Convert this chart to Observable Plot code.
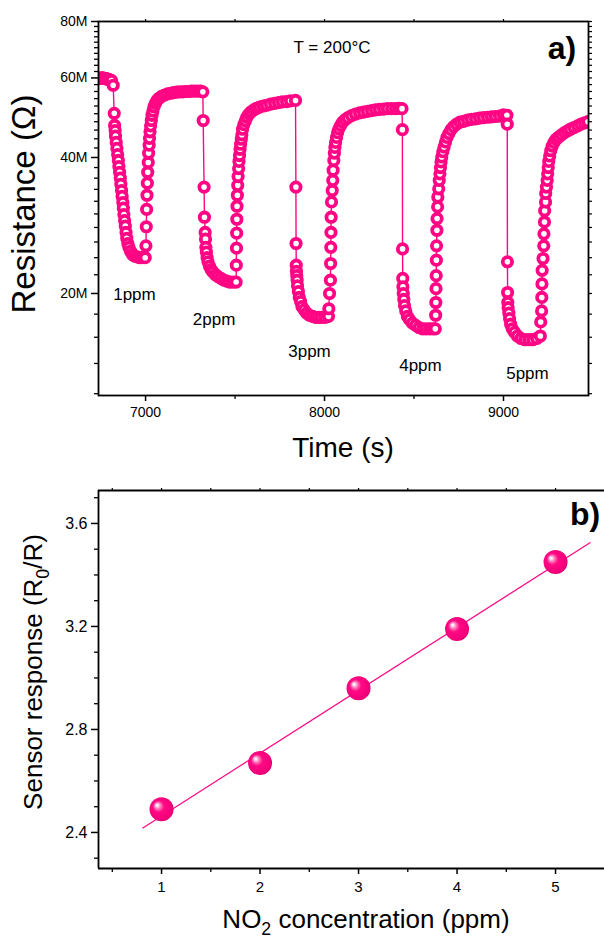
<!DOCTYPE html>
<html>
<head>
<meta charset="utf-8">
<script src="https://cdn.jsdelivr.net/npm/d3@7"></script>
<script src="https://cdn.jsdelivr.net/npm/@observablehq/plot@0.6"></script>
<style>
  html, body { margin: 0; padding: 0; background: #ffffff; overflow: hidden; }
  #chart { width: 604px; height: 938px; }
  #chart svg { display: block; }
</style>
</head>
<body>
<div id="chart"></div>
<script>
// ================= Panel a) resistance transients at 200 °C =================
// time (s) and resistance (MΩ), one pair of arrays per cycle
const timeC1 = [6740,6745,6750,6755,6760,6765,6770,6775,6780,6785,6790,6795,6800,6805,6810,6819,6825,
  6827,6830,6832,6836,6840,6844,6848,6851,6855,6859,6862,6866,6869,6873,6876,6879,6883,6887,6891,6895,6901,6907,6916,6927,6939,6953,6967,6980,6998,
  7002,7004,7006,7008,7010,7012,7015,7017,7020,7022,7025,7028,7032,7036,7041,7047,7055,7064,7075,7089,7106,7123,7140,7156,7173,7190,7207,7224,7240,7257,7274,7291,7307,7320];
const resC1 = [59.8,59.9,59.9,60.0,60.0,59.9,59.9,59.8,59.7,59.7,59.6,59.5,59.4,59.3,59.2,57.8,50.1,
  47.1,45.9,44.6,43.2,41.9,40.6,39.4,38.2,37.1,36.0,34.9,33.8,32.8,31.8,30.9,29.9,29.0,28.2,27.3,26.5,25.8,25.3,24.8,24.4,24.2,24.1,24.0,24.0,24.0,
  25.5,28.1,30.7,33.0,35.1,37.1,39.0,40.9,42.6,44.1,45.6,47.0,48.3,49.6,50.7,51.8,52.7,53.5,54.1,54.6,55.0,55.3,55.5,55.7,55.8,55.9,55.9,56.0,56.0,56.1,56.1,56.1,56.1,55.9];

const timeC2 = [7322,7327,7329,7333,7335,7337,7340,7344,7349,7357,7366,7377,7391,7405,7421,7437,7454,7470,7488,7506,
  7507,7508,7509,7510,7511,7513,7515,7517,7520,7522,7525,7528,7531,7535,7538,7542,7549,7557,7566,7577,7590,7605,7620,7637,7657,7676,7698,7721,7743,7765,7788,7810,7838];
const resC2 = [48.3,34.4,29.5,27.3,26.4,25.3,24.7,24.0,23.5,23.0,22.6,22.3,22.0,21.8,21.6,21.4,21.3,21.2,21.2,21.2,
  23.1,25.2,27.2,29.2,31.2,33.0,34.7,36.3,37.8,39.2,40.4,41.7,42.8,43.9,44.9,46.2,47.3,48.2,49.1,49.9,50.5,51.0,51.4,51.7,52.0,52.2,52.5,52.7,52.9,53.1,53.2,53.4,53.5];

const timeC3 = [7840,7841,7842,7843,7845,7847,7849,7854,7859,7866,7874,7886,7900,7916,7933,7950,7967,7983,8003,8022,
  8024,8028,8033,8034,8035,8036,8037,8039,8043,8046,8048,8052,8055,8058,8062,8067,8073,8080,8090,8101,8115,8131,8151,8173,8196,8218,8240,8263,8285,8307,8330,8352,8375,8397,8416,8433];
const resC3 = [34.4,25.8,23.1,22.4,21.9,21.4,20.8,20.2,19.6,19.2,18.7,18.4,18.1,17.9,17.8,17.7,17.7,17.7,17.7,17.8,
  18.5,20.0,21.4,23.3,25.3,27.3,29.5,31.9,33.8,35.6,37.5,39.4,40.9,42.1,43.2,44.3,45.4,46.3,47.1,47.9,48.5,49.0,49.5,49.9,50.2,50.4,50.6,50.8,51.0,51.1,51.2,51.3,51.3,51.3,51.4,51.3];

const timeC4 = [8435,8436,8437,8438,8440,8443,8447,8454,8463,8475,8491,8509,8528,8548,8567,8587,8604,8619,
  8621,8622,8623,8624,8625,8626,8628,8629,8632,8633,8638,8641,8645,8648,8651,8655,8661,8668,8676,8684,8695,8707,8721,8738,8757,8777,8799,8821,8844,8866,8888,8911,8933,8955,8978,9000,9019];
const resC4 = [46.1,25.1,21.6,20.7,20.0,19.4,18.8,18.3,17.8,17.5,17.2,17.0,16.8,16.7,16.7,16.7,16.7,16.7,
  17.9,19.1,20.5,21.9,23.7,25.5,27.6,29.3,31.1,32.7,34.1,35.6,36.8,38.0,39.1,40.1,41.2,42.2,43.3,44.3,45.2,46.1,46.8,47.4,47.9,48.1,48.4,48.6,48.7,48.9,49.0,49.1,49.2,49.3,49.4,49.7,49.6];

const timeC5 = [9021,9022,9023,9024,9026,9030,9034,9040,9049,9062,9078,9098,9119,9141,9163,9185,9206,
  9208,9213,9214,9215,9216,9221,9225,9226,9229,9230,9235,9236,9240,9244,9247,9250,9253,9258,9264,9272,9282,9294,9308,9324,9341,9358,9374,9394,9414,9433,9453,9472];
const resC5 = [47.4,23.5,20.1,19.1,18.6,18.1,17.6,17.1,16.7,16.4,16.1,15.9,15.8,15.8,15.8,15.9,16.1,
  17.3,18.3,19.6,21.0,22.5,23.9,25.5,27.1,28.8,30.5,31.9,33.3,34.4,35.6,36.8,38.0,39.2,40.3,41.4,42.4,43.2,43.9,44.4,44.9,45.4,45.8,46.2,46.6,47.0,47.4,47.7,48.0];

const domainTimeA = [6737, 9475];
const domainResA = [11.89, 80];
const xMajorA = [7000, 8000, 9000];
const xMinorA = [7500, 8500];
const yMajorA = [20, 40, 60, 80];
const yMinorA = [12,14,16,18,22,24,26,28,30,32,34,36,38,42,44,46,48,50,52,54,56,58,62,64,66,68,70,72,74,76,78];
const ppmText = ["1ppm", "2ppm", "3ppm", "4ppm", "5ppm"];
const ppmTime = [6938, 7383, 7916, 8536, 9134];
const ppmRes  = [19.3, 17.0, 14.5, 13.5, 12.96];

// ================= Panel b) response vs NO2 concentration =================
const concentration = [1, 2, 3, 4, 5];
const response = [2.49, 2.67, 2.96, 3.19, 3.45];
const fitSpan = [0.81, 5.35];
const domainConcB = [0.36, 5.497];
const domainRespB = [2.26, 3.728];
const xMajorB = [1, 2, 3, 4, 5];
const xMinorB = [0.5, 1.5, 2.5, 3.5, 4.5];
const yMajorB = [2.4, 2.8, 3.2, 3.6];
const yMinorB = [2.3, 2.5, 2.6, 2.7, 2.9, 3.0, 3.1, 3.3, 3.4, 3.5, 3.7];

// ================= build =================
const FONT = "'Liberation Sans', Arial, Helvetica, sans-serif";
const PINK = "#ff0784";
const blank = () => "";

function zip(ts, rs) {
  const n = Math.min(ts.length, rs.length);
  return d3.range(n).map(i => ({t: ts[i], r: rs[i]}));
}
const seriesA = [
  ...zip(timeC1, resC1), ...zip(timeC2, resC2), ...zip(timeC3, resC3),
  ...zip(timeC4, resC4), ...zip(timeC5, resC5)
];
const labelsA = ppmText.map((s, i) => ({label: s, t: ppmTime[i], r: ppmRes[i]}));

const svgA = Plot.plot({
  width: 604, height: 460,
  marginTop: 21, marginRight: 16, marginBottom: 65, marginLeft: 98,
  style: {fontFamily: FONT, fontSize: "14px", color: "#000", background: "transparent", overflow: "visible"},
  x: {domain: domainTimeA, label: null},
  y: {type: "log", domain: domainResA, label: null},
  marks: [
    Plot.axisY({ticks: yMajorA, tickSize: 7, tickPadding: 4, strokeWidth: 1.5, tickFormat: d => d + "M", fontSize: 14, label: null}),
    Plot.axisY({ticks: yMinorA, tickSize: 4, strokeWidth: 1.3, tickFormat: blank, label: null}),
    Plot.axisY({anchor: "right", ticks: yMajorA.concat(yMinorA), tickSize: 3, strokeWidth: 1.2, tickFormat: blank, label: null}),
    Plot.axisX({ticks: xMajorA, tickSize: 6, tickPadding: 6, strokeWidth: 1.5, tickFormat: d => String(d), fontSize: 14, label: null}),
    Plot.axisX({ticks: xMinorA, tickSize: 4, strokeWidth: 1.3, tickFormat: blank, label: null}),
    Plot.axisX({anchor: "top", ticks: xMajorA.concat(xMinorA), tickSize: 3, strokeWidth: 1.2, tickFormat: blank, label: null}),
    Plot.line(seriesA, {x: "t", y: "r", stroke: PINK, strokeWidth: 1.4, clip: true}),
    Plot.dot(seriesA, {x: "t", y: "r", r: 4.7, fill: "white", stroke: PINK, strokeWidth: 3.8, clip: true}),
    Plot.text(labelsA, {x: "t", y: "r", text: "label", fontSize: 17, lineAnchor: "bottom", textAnchor: "middle", fill: "#000"}),
    Plot.frame({stroke: "#000", strokeWidth: 1.8})
  ]
});

// least-squares line through the response points
const mx = d3.mean(concentration), my = d3.mean(response);
const slope = d3.sum(concentration, (x, i) => (x - mx) * (response[i] - my)) /
              d3.sum(concentration, x => (x - mx) ** 2);
const intercept = my - slope * mx;
const fitLine = fitSpan.map(x => ({x, y: intercept + slope * x}));
const pointsB = concentration.map((c, i) => ({c, s: response[i]}));

const svgB = Plot.plot({
  width: 604, height: 478,
  marginTop: 30, marginRight: 0, marginBottom: 70, marginLeft: 98,
  style: {fontFamily: FONT, fontSize: "15px", color: "#000", background: "transparent", overflow: "visible"},
  x: {domain: domainConcB, label: null},
  y: {domain: domainRespB, label: null},
  marks: [
    Plot.axisY({ticks: yMajorB, tickSize: 7, tickPadding: 4, strokeWidth: 1.5, tickFormat: d => d.toFixed(1), fontSize: 16, label: null}),
    Plot.axisY({ticks: yMinorB, tickSize: 4, strokeWidth: 1.3, tickFormat: blank, label: null}),
    Plot.axisX({ticks: xMajorB, tickSize: 6, tickPadding: 7, strokeWidth: 1.5, tickFormat: d => String(d), fontSize: 15, label: null}),
    Plot.axisX({ticks: xMinorB, tickSize: 4, strokeWidth: 1.3, tickFormat: blank, label: null}),
    Plot.axisX({anchor: "top", ticks: xMajorB.concat(xMinorB), tickSize: 3, strokeWidth: 1.2, tickFormat: blank, label: null}),
    Plot.ruleY([domainRespB[0], domainRespB[1]], {stroke: "#000", strokeWidth: 1.8}),
    Plot.ruleX([domainConcB[0]], {stroke: "#000", strokeWidth: 1.8}),
    Plot.line(fitLine, {x: "x", y: "y", stroke: PINK, strokeWidth: 1.2}),
    Plot.dot(pointsB, {x: "c", y: "s", r: 12, fill: "url(#sphereGrad)"})
  ]
});

// glossy sphere gradient for panel b markers
const grad = d3.select(svgB).insert("defs", ":first-child")
  .append("radialGradient").attr("id", "sphereGrad")
  .attr("cx", "0.47").attr("cy", "0.47").attr("r", "0.57").attr("fx", "0.3").attr("fy", "0.32");
[[0, "#ffffff"], [0.08, "#ffe8f3"], [0.22, "#ff7cbd"], [0.42, "#ff0a84"], [0.85, "#f2007a"], [1, "#d2006b"]]
  .forEach(([o, c]) => grad.append("stop").attr("offset", o).attr("stop-color", c));

function addLabel(svg, {x, y, size, weight = "normal", rotate = 0, anchor = "middle", parts}) {
  const t = d3.select(svg).append("text")
    .attr("transform", `translate(${x},${y}) rotate(${rotate})`)
    .attr("text-anchor", anchor)
    .attr("font-family", FONT).attr("font-size", size).attr("font-weight", weight)
    .attr("fill", "#000");
  let shifted = false;
  for (const [s, sub] of parts) {
    const ts = t.append("tspan").text(s);
    if (sub) { ts.attr("font-size", size * 0.68).attr("dy", size * 0.28); shifted = true; }
    else if (shifted) { ts.attr("dy", -size * 0.28); shifted = false; }
  }
}

addLabel(svgA, {x: 35, y: 204, size: 33, rotate: -90, parts: [["Resistance (Ω)"]]});
addLabel(svgA, {x: 343, y: 457, size: 28, parts: [["Time (s)"]]});
addLabel(svgA, {x: 332, y: 53, size: 17, parts: [["T = 200°C"]]});
addLabel(svgA, {x: 562, y: 59, size: 32, weight: "bold", parts: [["a)"]]});

addLabel(svgB, {x: 366, y: 468, size: 26, parts: [["NO"], ["2", true], [" concentration (ppm)"]]});
addLabel(svgB, {x: 42, y: 212, size: 26, rotate: -90, parts: [["Sensor response (R"], ["0", true], ["/R)"]]});
addLabel(svgB, {x: 585, y: 65, size: 32, weight: "bold", parts: [["b)"]]});

const chart = document.getElementById("chart");
chart.appendChild(svgA);
chart.appendChild(svgB);
</script>
</body>
</html>
